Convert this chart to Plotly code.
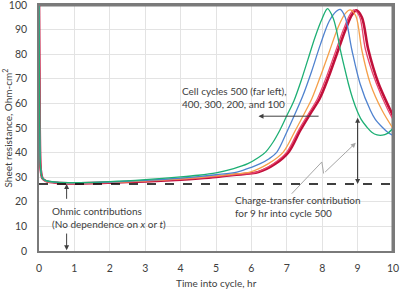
import plotly.graph_objects as go

# ---------------- data ----------------
t_500 = [0, 0.02, 0.05, 0.1, 0.2, 0.5, 1, 2, 3, 4, 4.5, 5, 5.5, 5.9, 6.2, 6.4, 6.6, 6.8, 7.0, 7.2, 7.4,
         7.6, 7.8, 8.0, 8.15, 8.3, 8.4, 8.51, 8.63, 8.74, 8.86, 8.98, 9.1, 9.26, 9.4, 9.55, 9.7, 9.83, 10]
v_500 = [100, 50, 33, 29.5, 28.6, 28, 27.8, 28.2, 29, 30.1, 30.8, 31.8, 33.5, 35.5, 38, 40.2, 44, 49, 55, 61,
         69, 78, 87, 94.5, 98.5, 95, 90, 82, 74.5, 68, 62, 57.2, 53.5, 50.4, 48.3, 47.2, 47.1, 47.7, 49.8]

t_400 = [0, 0.02, 0.05, 0.1, 0.2, 0.5, 1, 2, 3, 4, 4.5, 5, 5.59, 6.0, 6.25, 6.5, 6.72, 7.02, 7.24, 7.45,
         7.7, 7.95, 8.2, 8.4, 8.51, 8.65, 8.84, 9.07, 9.36, 9.5, 9.69, 9.85, 10]
v_400 = [100, 50, 33, 29.5, 28.5, 27.9, 27.7, 28.0, 28.7, 29.6, 30.2, 31, 32.1, 34, 35.5, 37.5, 40.2, 49, 56, 63,
         73, 84, 93.5, 97.5, 98.2, 95, 81.6, 68, 57.2, 53.5, 50.4, 48.3, 47]

t_300 = [0, 0.02, 0.05, 0.1, 0.2, 0.5, 1, 2, 3, 4, 4.5, 5, 5.5, 5.96, 6.48, 6.9, 7.24, 7.5, 7.71, 7.95,
         8.2, 8.45, 8.65, 8.79, 8.95, 9.12, 9.36, 9.69, 10]
v_300 = [100, 50, 33, 29.5, 28.4, 27.8, 27.6, 27.9, 28.5, 29.3, 29.8, 30.5, 31.3, 32.1, 35.5, 40.2, 49, 56, 62, 71,
         81, 91, 96.5, 98, 95.5, 81.6, 68, 57.2, 49.8]

t_200 = [0, 0.02, 0.05, 0.1, 0.2, 0.5, 1, 2, 3, 4, 4.5, 5, 5.5, 6.15, 6.62, 7.0, 7.33, 7.6, 7.87, 8.1,
         8.35, 8.6, 8.78, 8.89, 9.05, 9.22, 9.52, 9.85, 10]
v_200 = [100, 50, 33, 29.5, 28.4, 27.7, 27.5, 27.8, 28.4, 29.1, 29.6, 30.2, 31, 32.1, 35.5, 40.2, 49, 55.5, 62, 70,
         80, 90, 96, 98, 95.5, 82, 68.5, 57.5, 53.5]

t_100 = [0, 0.02, 0.05, 0.1, 0.2, 0.5, 1, 2, 3, 4, 4.5, 5, 5.5, 6.2, 6.68, 7.05, 7.38, 7.65, 7.93, 8.16,
         8.41, 8.66, 8.84, 8.96, 9.12, 9.3, 9.58, 9.9, 10]
v_100 = [100, 50, 33, 29.5, 28.4, 27.7, 27.5, 27.8, 28.3, 29.0, 29.5, 30.1, 30.9, 32.1, 35.5, 40.2, 49, 55.5, 62, 70,
         80, 90, 96, 97.8, 95, 82, 68.5, 58, 55]

series = [
    ("100", t_100, v_100, "#C0103A", 2.6),
    ("200", t_200, v_200, "#E8456E", 1.3),
    ("300", t_300, v_300, "#F5A04A", 1.3),
    ("400", t_400, v_400, "#4F82CF", 1.3),
    ("500", t_500, v_500, "#1DAF74", 1.3),
]

ohmic_level = 27.2
ct_time = 9
ct_top = 54.2
x_range = [0, 10]
y_range = [0, 100]
x_ticks = list(range(0, 11))
y_ticks = list(range(0, 101, 10))

FONT = "Lato"
TXT = "#404040"
FRAME = "#7A7A7A"

fig = go.Figure()

# top/right frame of the plot area, built from the axis ranges
fig.add_trace(go.Scatter(x=[x_range[0], x_range[1], x_range[1]], y=[y_range[1], y_range[1], y_range[0]],
                         mode="lines", line=dict(color=FRAME, width=3), hoverinfo="skip",
                         cliponaxis=False))

for name, t, v, col, w in series:
    fig.add_trace(go.Scatter(x=t, y=v, mode="lines", name=name,
                             line=dict(color=col, width=w, shape="spline", smoothing=0.9),
                             hoverinfo="skip"))

# ohmic dashed line
fig.add_trace(go.Scatter(x=x_range, y=[ohmic_level, ohmic_level], mode="lines",
                         line=dict(color="#000000", width=1.5, dash="dash"), hoverinfo="skip"))

# zigzag connector (grey) for charge-transfer label
fig.add_trace(go.Scatter(x=[7.14, 7.99, 8.04], y=[23.3, 36.2, 31.5], mode="lines",
                         line=dict(color="#A6A6A6", width=1), hoverinfo="skip"))

arrows = [
    # (x, y head, ax, ay tail, color)
    (0.78, ohmic_level, 0.78, 20.6, TXT),
    (0.78, 0.3, 0.78, 7.7, TXT),
    (ct_time, ct_top, ct_time, ohmic_level + 1, TXT),
    (ct_time, ohmic_level, ct_time, ct_top - 1, TXT),
    (6.2, 54.8, 7.94, 54.8, TXT),
    (8.95, 44.0, 8.04, 31.5, "#A6A6A6"),
]
for x, y, ax, ay, col in arrows:
    fig.add_annotation(x=x, y=y, ax=ax, ay=ay, xref="x", yref="y", axref="x", ayref="y",
                       text="", showarrow=True, arrowhead=2, arrowsize=1, arrowwidth=1,
                       arrowcolor=col)

texts = [
    (0.3, 13.7, "Ohmic contributions<br>(No dependence on <i>x</i> or <i>t</i>)"),
    (5.49, 18.2, "Charge-transfer contribution<br>for 9 hr into cycle 500"),
    (3.99, 62.4, "Cell cycles 500 (far left),<br>400, 300, 200, and 100"),
]
for x, y, s in texts:
    fig.add_annotation(x=x, y=y, xref="x", yref="y", text=s, showarrow=False,
                       xanchor="left", yanchor="middle", align="left",
                       font=dict(family=FONT, size=10, color=TXT))

# axis titles
fig.add_annotation(x=0, y=0.5, xref="paper", yref="paper", xshift=-32.5, textangle=-90,
                   text="Sheet resistance, Ohm-cm<sup>2</sup>", showarrow=False,
                   xanchor="center", yanchor="middle", font=dict(family=FONT, size=10, color=TXT))
fig.add_annotation(x=0.5, y=0, xref="paper", yref="paper", yshift=-32, text="Time into cycle, hr",
                   showarrow=False, xanchor="center", yanchor="middle",
                   font=dict(family=FONT, size=10, color=TXT))

# plot-area frame (top and right edges)
fig.add_shape(type="line", xref="paper", yref="paper", x0=0, y0=1, x1=1, y1=1,
              line=dict(color=FRAME, width=2), layer="above")
fig.add_shape(type="line", xref="paper", yref="paper", x0=1, y0=0, x1=1, y1=1,
              line=dict(color=FRAME, width=2), layer="above")

axis_common = dict(showline=True, linecolor=FRAME, linewidth=1.5, mirror=True,
                   showgrid=True, gridcolor="#E3E3E3", gridwidth=1, zeroline=False,
                   tickcolor="rgba(0,0,0,0)", ticklabeloverflow="allow",
                   tickfont=dict(family=FONT, size=10.5, color="#404040"))
fig.update_xaxes(range=x_range, tickvals=x_ticks, ticks="outside", ticklen=7, **axis_common)
fig.update_yaxes(range=y_range, tickvals=y_ticks, ticks="outside", ticklen=8, **axis_common)

fig.update_layout(width=400, height=289,
                  margin=dict(l=39, r=7, t=5, b=38, autoexpand=False),
                  plot_bgcolor="white", paper_bgcolor="white", showlegend=False)

fig.write_html("out.html", config={"displayModeBar": False},
               post_script="document.body.style.margin='0px';document.body.style.overflow='hidden';window.scrollTo(0,0);")
